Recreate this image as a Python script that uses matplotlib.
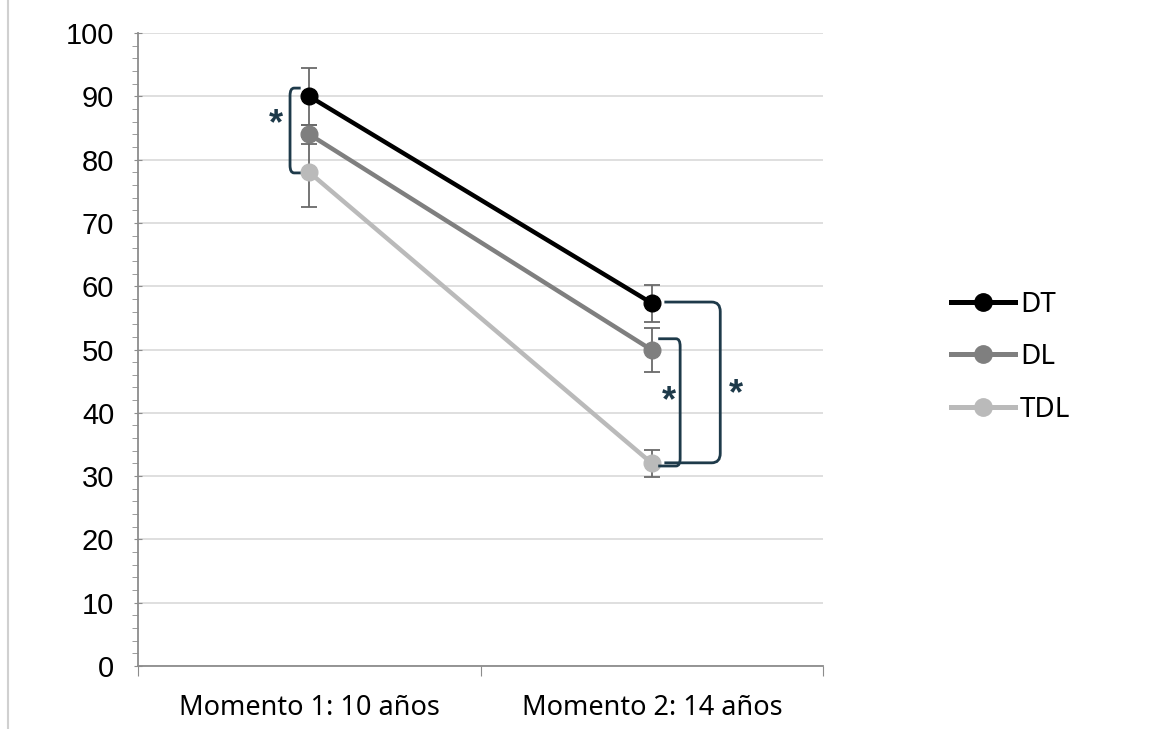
"""Line chart of three groups at two time points, with error bars and significance brackets."""

import matplotlib.pyplot as plt
from matplotlib.lines import Line2D
from matplotlib.path import Path
from matplotlib.patches import PathPatch
from matplotlib.ticker import MultipleLocator

categories = ["Momento 1: 10 años", "Momento 2: 14 años"]
series_names = ["DT", "DL", "TDL"]
dt_values = [90.0, 57.3]
dl_values = [84.0, 49.9]
tdl_values = [78.0, 32.0]
dt_errors = [4.5, 2.9]
dl_errors = [1.5, 3.5]
tdl_errors = [5.5, 2.2]

COLORS = ["#000000", "#7f7f7f", "#bababa"]
BRACKET_COLOR = "#1e3a4a"
ERR_COLOR = "#6a6a6a"


def bracket(ax, x0, x1, y_top, y_bot, r=0.012, ry=1.2):
    """Square bracket: from x0 at y_top out to x1, down to y_bot, back to x0."""
    sign = 1 if x1 > x0 else -1
    verts = [
        (x0, y_top),
        (x1 - sign * r, y_top),
        (x1, y_top), (x1, y_top - ry),
        (x1, y_bot + ry),
        (x1, y_bot), (x1 - sign * r, y_bot),
        (x0, y_bot),
    ]
    codes = [Path.MOVETO, Path.LINETO, Path.CURVE3, Path.CURVE3,
             Path.LINETO, Path.CURVE3, Path.CURVE3, Path.LINETO]
    ax.add_patch(PathPatch(Path(verts, codes), fill=False, lw=2.0,
                           edgecolor=BRACKET_COLOR, zorder=5))


def main() -> None:
    plt.rcParams["font.family"] = ["Liberation Sans", "DejaVu Sans"]
    fig = plt.figure(figsize=(11.68, 7.29), dpi=100)
    ax = fig.add_axes([0.118, 0.0864, 0.587, 0.8683])

    x = [0.5, 1.5]
    values = [dt_values, dl_values, tdl_values]
    errors = [dt_errors, dl_errors, tdl_errors]

    for vals, errs in zip(values, errors):
        ax.errorbar(x, vals, yerr=errs, fmt="none", ecolor=ERR_COLOR,
                    elinewidth=1.3, capsize=6, capthick=1.3, zorder=2)
    for name, vals, color in zip(series_names, values, COLORS):
        ax.plot(x, vals, color=color, lw=3.2, marker="o", markersize=12,
                label=name, zorder=3)

    ax.set_xlim(0, 2)
    ax.set_ylim(0, 100)
    ax.yaxis.set_major_locator(MultipleLocator(10))
    ax.yaxis.set_minor_locator(MultipleLocator(2))
    ax.set_xticks([0, 1, 2], minor=False)
    ax.set_xticklabels(["", "", ""])
    ax.set_xticks(x, minor=True)
    ax.set_xticklabels(categories, minor=True, fontsize=19.5,
                       family=["Noto Sans", "DejaVu Sans"])
    ax.tick_params(axis="x", which="minor", length=0, pad=20)
    ax.tick_params(axis="x", which="major", length=7, color="#8c8c8c",
                   direction="out")
    ax.tick_params(axis="y", which="major", length=6, direction="inout",
                   color="#8c8c8c", labelsize=21, pad=14)
    ax.tick_params(axis="y", which="minor", length=4, direction="out",
                   color="#8c8c8c")

    ax.grid(axis="y", which="major", color="#d9d9d9", lw=1.2)
    ax.set_axisbelow(True)
    for side in ["top", "right"]:
        ax.spines[side].set_visible(False)
    for side in ["left", "bottom"]:
        ax.spines[side].set_color("#8c8c8c")
        ax.spines[side].set_linewidth(1.3)

    # significance brackets
    star = dict(fontsize=26, fontweight="bold", color=BRACKET_COLOR,
                ha="center", va="center")
    bracket(ax, 0.475, 0.444, dt_values[0] + 1.3, tdl_values[0] - 0.1)
    ax.text(0.403, 85.6, "*", **star)
    bracket(ax, 1.518, 1.582, dl_values[1] + 1.8, tdl_values[1] - 0.4)
    ax.text(1.548, 41.8, "*", **star)
    bracket(ax, 1.536, 1.699, dt_values[1] + 0.2, tdl_values[1] + 0.1,
            r=0.025, ry=1.5)
    ax.text(1.746, 42.8, "*", **star)

    handles = [Line2D([], [], color=c, lw=3.6, marker="o", markersize=12.5)
               for c in COLORS]
    fig.legend(handles, series_names, loc="center left",
               bbox_to_anchor=(0.793, 0.510), frameon=False,
               prop={"family": ["Noto Sans", "DejaVu Sans"], "size": 20},
               handlelength=2.3, handletextpad=0.18, labelspacing=0.88)

    fig.add_artist(Line2D([0.0068, 0.0068], [0.0, 1.0], color="#d0d0d0",
                          lw=1.5, transform=fig.transFigure))

    fig.savefig("out.png", dpi=100)
    plt.close(fig)


if __name__ == "__main__":
    main()
